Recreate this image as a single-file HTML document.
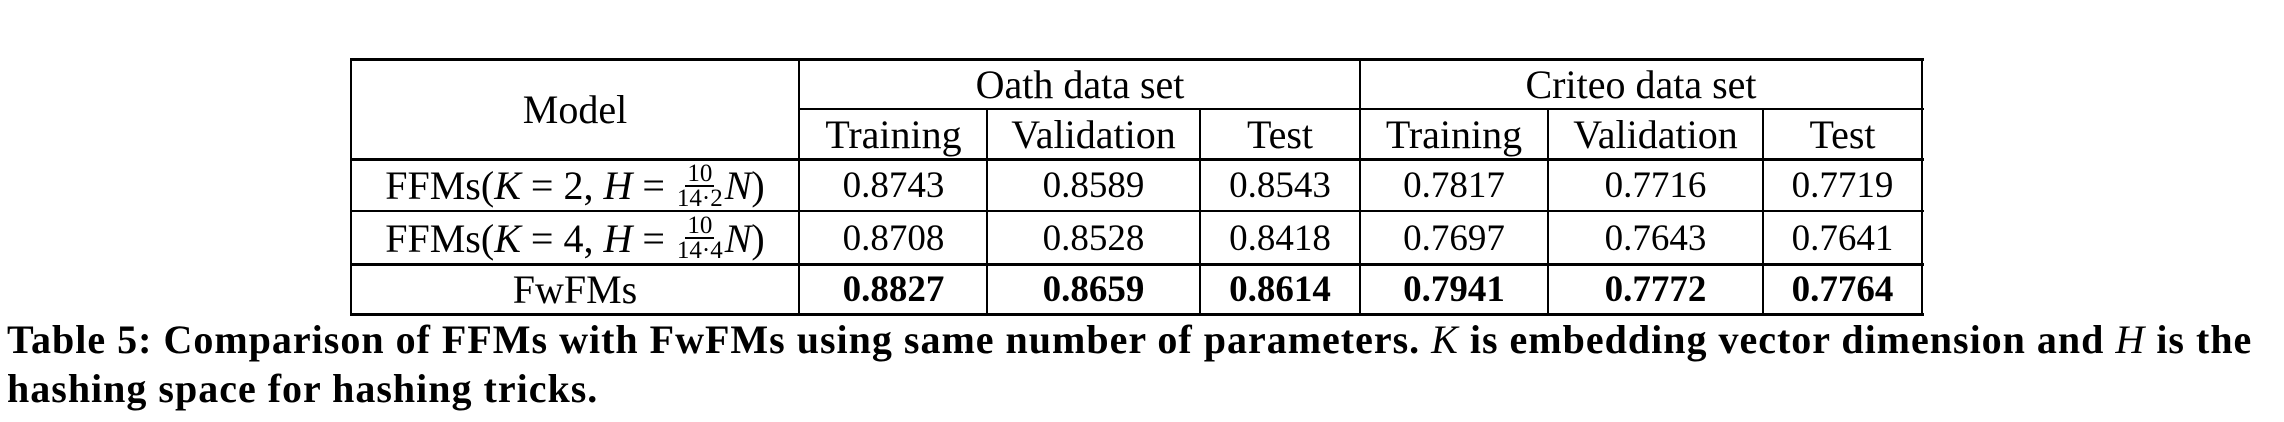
<!DOCTYPE html>
<html><head><meta charset="utf-8"><style>
body{margin:0;width:2284px;height:422px;background:#fff;position:relative;overflow:hidden;font-family:"Liberation Serif",serif;color:#000}
.c{position:absolute;display:flex;align-items:center;justify-content:center;font-size:37px;white-space:nowrap}
.t{font-size:40px}
.h{position:absolute;background:#000}
.b{font-weight:bold}
.fr{display:inline-flex;flex-direction:column;align-items:center;font-size:25px;line-height:23px;vertical-align:middle;margin:0 2px;font-style:normal}
.fr span:first-child{border-bottom:2px solid #000;padding:0 2px}
i{font-style:italic}
.cap{position:absolute;left:7px;font-weight:bold;font-size:40px;letter-spacing:1px;white-space:nowrap;line-height:46px}
</style></head><body>
<div class="h" style="left:350px;top:58px;width:1574px;height:3px"></div>
<div class="h" style="left:799px;top:108px;width:1125px;height:2px"></div>
<div class="h" style="left:350px;top:158px;width:1574px;height:3px"></div>
<div class="h" style="left:350px;top:210px;width:1574px;height:2px"></div>
<div class="h" style="left:350px;top:263px;width:1574px;height:3px"></div>
<div class="h" style="left:350px;top:313px;width:1574px;height:3px"></div>
<div class="h" style="left:350px;top:58px;width:2px;height:258px"></div>
<div class="h" style="left:798px;top:58px;width:2px;height:258px"></div>
<div class="h" style="left:986px;top:108px;width:2px;height:208px"></div>
<div class="h" style="left:1199px;top:108px;width:2px;height:208px"></div>
<div class="h" style="left:1359px;top:58px;width:2px;height:258px"></div>
<div class="h" style="left:1547px;top:108px;width:2px;height:208px"></div>
<div class="h" style="left:1762px;top:108px;width:2px;height:208px"></div>
<div class="h" style="left:1921px;top:58px;width:2px;height:258px"></div>

<div class="c t" style="left:350px;top:60px;width:450px;height:99px">Model</div>
<div class="c t" style="left:800px;top:60px;width:560px;height:49px">Oath data set</div>
<div class="c t" style="left:1360px;top:60px;width:562px;height:49px">Criteo data set</div>

<div class="c t" style="left:800px;top:110px;width:187px;height:49px">Training</div>
<div class="c t" style="left:987px;top:110px;width:213px;height:49px">Validation</div>
<div class="c t" style="left:1200px;top:110px;width:160px;height:49px">Test</div>
<div class="c t" style="left:1360px;top:110px;width:188px;height:49px">Training</div>
<div class="c t" style="left:1548px;top:110px;width:215px;height:49px">Validation</div>
<div class="c t" style="left:1763px;top:110px;width:159px;height:49px">Test</div>

<div class="c t" style="left:350px;top:160px;width:450px;height:51px">FFMs(<i>K</i>&nbsp;=&nbsp;2,&nbsp;<i>H</i>&nbsp;=&nbsp;<span class="fr"><span>10</span><span>14·2</span></span><i>N</i>)</div>
<div class="c t" style="left:350px;top:212px;width:450px;height:52px">FFMs(<i>K</i>&nbsp;=&nbsp;4,&nbsp;<i>H</i>&nbsp;=&nbsp;<span class="fr"><span>10</span><span>14·4</span></span><i>N</i>)</div>
<div class="c t" style="left:350px;top:265px;width:450px;height:49px">FwFMs</div>

<div class="c" style="left:800px;top:160px;width:187px;height:51px">0.8743</div>
<div class="c" style="left:987px;top:160px;width:213px;height:51px">0.8589</div>
<div class="c" style="left:1200px;top:160px;width:160px;height:51px">0.8543</div>
<div class="c" style="left:1360px;top:160px;width:188px;height:51px">0.7817</div>
<div class="c" style="left:1548px;top:160px;width:215px;height:51px">0.7716</div>
<div class="c" style="left:1763px;top:160px;width:159px;height:51px">0.7719</div>

<div class="c" style="left:800px;top:212px;width:187px;height:52px">0.8708</div>
<div class="c" style="left:987px;top:212px;width:213px;height:52px">0.8528</div>
<div class="c" style="left:1200px;top:212px;width:160px;height:52px">0.8418</div>
<div class="c" style="left:1360px;top:212px;width:188px;height:52px">0.7697</div>
<div class="c" style="left:1548px;top:212px;width:215px;height:52px">0.7643</div>
<div class="c" style="left:1763px;top:212px;width:159px;height:52px">0.7641</div>

<div class="c b" style="left:800px;top:265px;width:187px;height:49px">0.8827</div>
<div class="c b" style="left:987px;top:265px;width:213px;height:49px">0.8659</div>
<div class="c b" style="left:1200px;top:265px;width:160px;height:49px">0.8614</div>
<div class="c b" style="left:1360px;top:265px;width:188px;height:49px">0.7941</div>
<div class="c b" style="left:1548px;top:265px;width:215px;height:49px">0.7772</div>
<div class="c b" style="left:1763px;top:265px;width:159px;height:49px">0.7764</div>

<div class="cap" style="top:317px">Table 5: Comparison of FFMs with FwFMs using same number of parameters. <i style="font-weight:normal">K</i> is embedding vector dimension and <i style="font-weight:normal">H</i> is the</div>
<div class="cap" style="top:366px">hashing space for hashing tricks.</div>
</body></html>
